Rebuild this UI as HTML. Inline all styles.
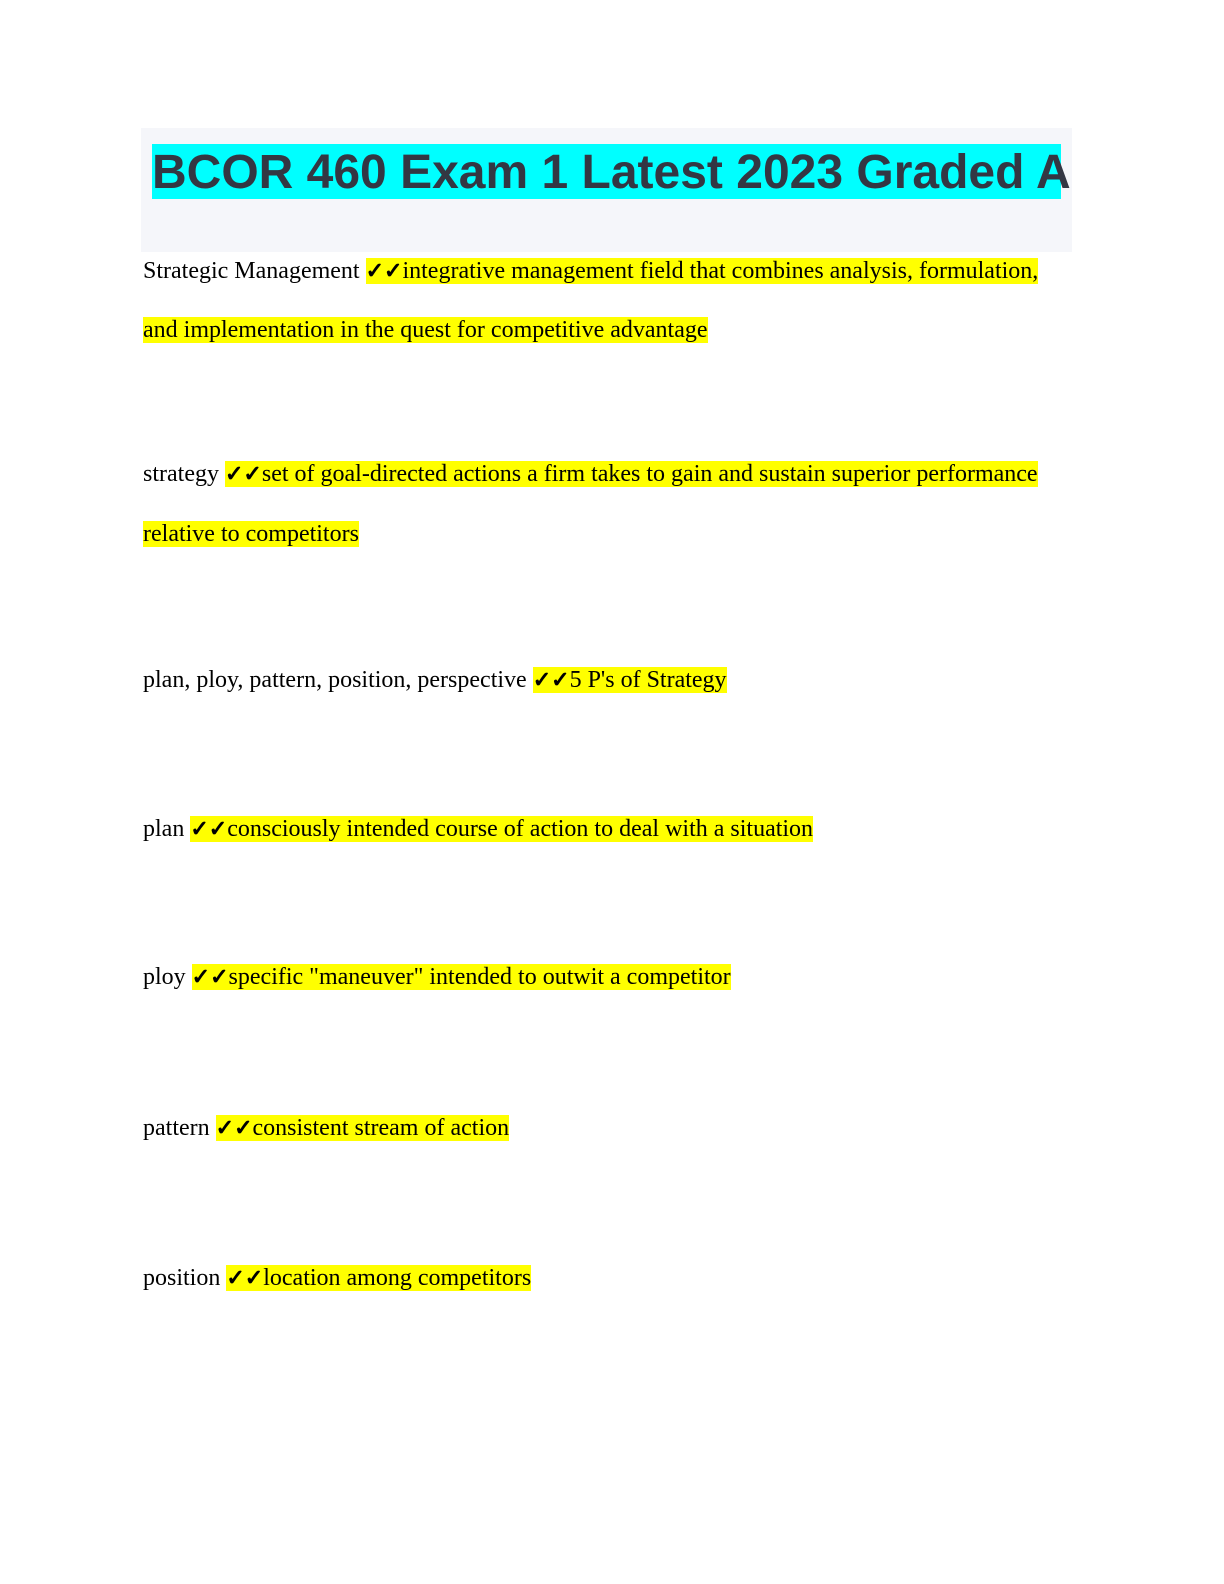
<!DOCTYPE html>
<html><head><meta charset="utf-8"><style>
body{margin:0;width:1224px;height:1584px;background:#fff;position:relative;overflow:hidden}
.box{position:absolute;left:141px;top:128px;width:931px;height:124px;background:#f5f6fa}
.title{position:absolute;left:152px;top:144px;width:909px;height:55px;background:#00ffff;font:bold 48px/57px "Liberation Sans",sans-serif;color:#333743;white-space:nowrap;text-align:center}
.l{position:absolute;left:143px;font:24px/32px "Liberation Serif",serif;color:#000;white-space:nowrap}
.h{background:#ffff00}
.c{font-family:"DejaVu Sans",sans-serif;font-weight:bold;font-size:22px;-webkit-text-stroke:1px #000}
</style></head><body>
<div class="box"></div>
<div class="title">BCOR 460 Exam 1 Latest 2023 Graded A</div>
<div class="l" style="top:255px">Strategic Management <span class="h"><span class="c">✓✓</span>integrative management field that combines analysis, formulation,</span></div>
<div class="l" style="top:314px"><span class="h">and implementation in the quest for competitive advantage</span></div>
<div class="l" style="top:458px">strategy <span class="h"><span class="c">✓✓</span>set of goal-directed actions a firm takes to gain and sustain superior performance</span></div>
<div class="l" style="top:518px"><span class="h">relative to competitors</span></div>
<div class="l" style="top:664px">plan, ploy, pattern, position, perspective <span class="h"><span class="c">✓✓</span>5 P's of Strategy</span></div>
<div class="l" style="top:813px">plan <span class="h"><span class="c">✓✓</span>consciously intended course of action to deal with a situation</span></div>
<div class="l" style="top:961px">ploy <span class="h"><span class="c">✓✓</span>specific "maneuver" intended to outwit a competitor</span></div>
<div class="l" style="top:1112px">pattern <span class="h"><span class="c">✓✓</span>consistent stream of action</span></div>
<div class="l" style="top:1262px">position <span class="h"><span class="c">✓✓</span>location among competitors</span></div>
</body></html>
